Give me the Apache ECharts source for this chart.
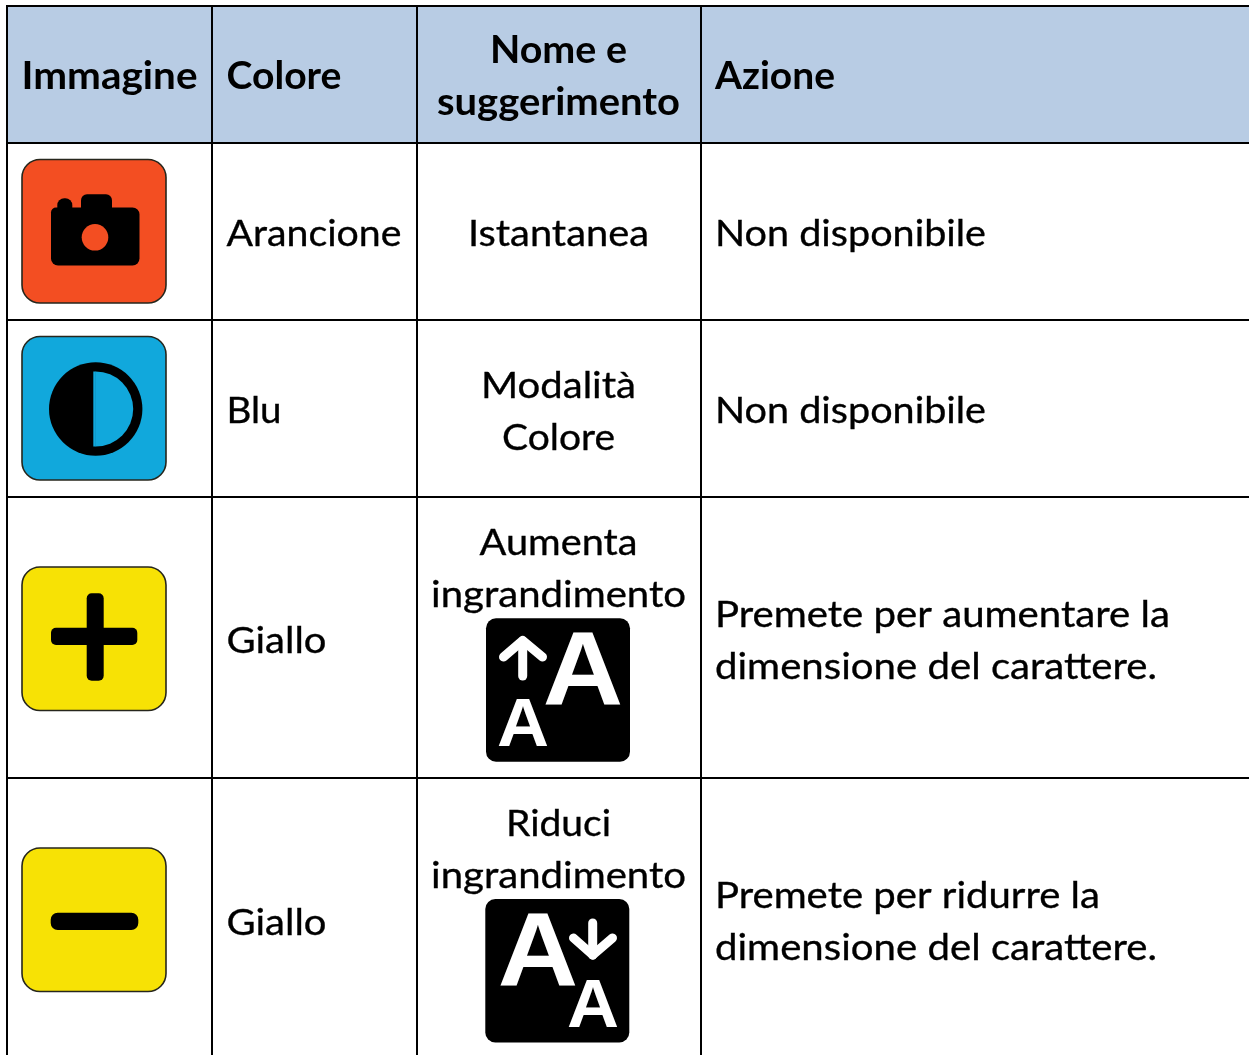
<!DOCTYPE html>
<html><head><meta charset="utf-8">
<style>html,body{margin:0;padding:0;background:#fff}#c{width:1249px;height:1055px}</style>
<script src="https://cdn.jsdelivr.net/npm/echarts@6/dist/echarts.min.js"></script>
</head><body><div id="c"></div>
<script>
// ---- content ----
const headerImage = ['Immagine'];
const headerColour = ['Colore'];
const headerName = ['Nome e', 'suggerimento'];
const headerAction = ['Azione'];
const colourNames = ['Arancione', 'Blu', 'Giallo', 'Giallo'];
const tipNames = [['Istantanea'], ['Modalità', 'Colore'], ['Aumenta', 'ingrandimento'], ['Riduci', 'ingrandimento']];
const actions = [['Non disponibile'], ['Non disponibile'],
  ['Premete per aumentare la', 'dimensione del carattere.'],
  ['Premete per ridurre la', 'dimensione del carattere.']];

// ---- layout ----
const colX = [7, 212, 417, 701];
const rowY = [6, 143, 320, 497, 778];
const W = 1249, H = 1055;
const FS = 37.5, LH = 52, FONT = 'Lato, "Open Sans", sans-serif';
// widths of each string in the reference, used to fit the stand-in font
const fitBold = {'Immagine':176,'Colore':115,'Nome e':137,'suggerimento':243,'Azione':120};
const fitReg = {'Arancione':175,'Istantanea':181,'Non disponibile':271,'Blu':55,'Modalità':155,'Colore':113,
  'Giallo':100,'Aumenta':158,'ingrandimento':255,'Premete per aumentare la':455,
  'dimensione del carattere.':442,'Riduci':105,'Premete per ridurre la':385};
const ctx = document.createElement('canvas').getContext('2d');
const g = [];
const T = (s, x, y, align, bold) => {
  const font = (bold?'bold ':'')+FS+'px '+FONT;
  ctx.font = font;
  const sx = (bold?fitBold:fitReg)[s] / ctx.measureText(s).width;
  g.push({type:'text', x, y, scaleX:sx, z:5,
    style:{text:s, x:0, y:0, align, verticalAlign:'middle', fill:'#000', font,
      stroke:bold?null:'#000', lineWidth:bold?0:0.35}});
};
const block = (lines, cx, cy, align, bold) => lines.forEach((l,i)=>
  T(l, cx, cy + (i-(lines.length-1)/2)*LH, align, bold));

g.push({type:'rect', shape:{x:colX[0],y:rowY[0],width:W-colX[0],height:rowY[1]-rowY[0]}, style:{fill:'#B8CCE4'}});
colX.forEach(x=>g.push({type:'line', z:4, shape:{x1:x,y1:rowY[0]-1,x2:x,y2:H}, style:{stroke:'#000',lineWidth:2}}));
rowY.forEach(y=>g.push({type:'line', z:4, shape:{x1:colX[0]-1,y1:y,x2:W,y2:y}, style:{stroke:'#000',lineWidth:2}}));

// header
block(headerImage, 109.5, 77, 'center', true);
block(headerColour, 226.5, 77, 'left', true);
block(headerName, 558.5, 77, 'center', true);
block(headerAction, 715, 77, 'left', true);

// rows
const colCY = [234,411,641,923], tipCY = [234,412,569,850], actCY = [234,411,641,922];
colourNames.forEach((n,i)=>T(n,226.5,colCY[i],'left'));
tipNames.forEach((l,i)=>block(l,558.5,tipCY[i],'center'));
actions.forEach((l,i)=>block(l,715,actCY[i],'left'));

// icons
const icon = (y,fill)=>g.push({type:'rect',z:3,shape:{x:22,y:y,width:144,height:143.5,r:18},
  style:{fill,stroke:'#26261c',lineWidth:1.6}});
const blk = {fill:'#000'};
icon(159.5,'#F34E22'); icon(336.5,'#11A8DC'); icon(567,'#F7E205'); icon(848,'#F7E205');

// camera
g.push({type:'rect',z:4,shape:{x:51,y:207.5,width:88.5,height:58,r:[5,7,7,7]},style:blk});
g.push({type:'rect',z:4,shape:{x:81,y:194.3,width:31,height:20,r:[6,6,0,0]},style:blk});
g.push({type:'rect',z:4,shape:{x:57.3,y:198.3,width:15,height:16,r:[7,7,0,0]},style:blk});
g.push({type:'circle',z:5,shape:{cx:95,cy:237.3,r:13.3},style:{fill:'#F34E22'}});

// contrast
g.push({type:'circle',z:4,shape:{cx:95.7,cy:409,r:46.7},style:blk});
g.push({type:'sector',z:5,shape:{cx:95.7,cy:409,r:37.5,r0:0,startAngle:-Math.PI/2,endAngle:Math.PI/2,clockwise:true},style:{fill:'#11A8DC'}});
g.push({type:'rect',z:5,shape:{x:93.3,y:371.5,width:2.6,height:75},style:{fill:'#11A8DC'}});

// plus / minus
g.push({type:'rect',z:4,shape:{x:86.7,y:593.3,width:17,height:87.4,r:5},style:blk});
g.push({type:'rect',z:4,shape:{x:51,y:627.7,width:86.3,height:17.3,r:5},style:blk});
g.push({type:'rect',z:4,shape:{x:50.7,y:912.7,width:87.6,height:17.3,r:7},style:blk});

// AA tiles
const tile = (x,y)=>g.push({type:'rect',z:6,shape:{x,y,width:144,height:143.5,r:10},style:blk});
const glyph = (x,top,size,sx)=>g.push({type:'text',z:7,x,y:top,scaleX:sx,
  style:{text:'A',x:0,y:0,align:'center',verticalAlign:'top',fill:'#fff',font:'bold '+size+'px "Liberation Sans"'}});
const arrow = (pts)=>pts.forEach(p=>g.push({type:'polyline',z:7,shape:{points:p},
  style:{stroke:'#fff',fill:null,lineWidth:9,lineCap:'round',lineJoin:'round'}}));
tile(486,618.3); tile(485.3,899);
glyph(583,623.3,104,1.07); glyph(523,693.5,68,1.06);
glyph(538,904.3,104,1.07); glyph(593,974.5,68,1.06);
arrow([[[522.7,641],[522.7,676]],[[503.5,657],[522.7,640.5],[542.5,657]]]);
arrow([[[592.7,923],[592.7,955]],[[573.5,938],[592.7,955],[612.5,938]]]);

const chart = echarts.init(document.getElementById('c'), null, {renderer:'canvas'});
chart.setOption({animation:false, backgroundColor:'#fff', graphic:{elements:g}});
</script></body></html>
